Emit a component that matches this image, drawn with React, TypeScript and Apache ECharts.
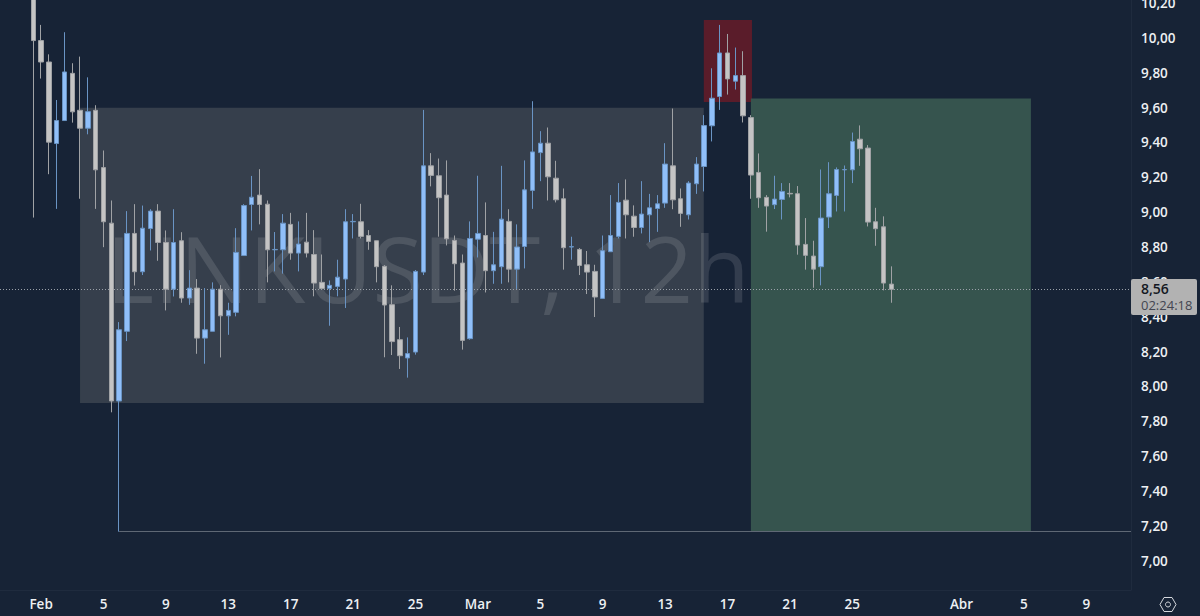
import React, { useEffect, useRef } from "react";
import * as echarts from "echarts";

const opens = [10.45,9.985,9.862,9.394,9.526,9.797,9.585,9.482,9.585,9.256,8.937,7.916,8.316,8.878,8.658,8.906,9.006,8.826,8.558,8.836,8.507,8.564,8.277,8.316,8.558,8.405,8.425,8.751,9.044,9.098,9.046,8.784,8.784,8.930,8.765,8.828,8.757,8.597,8.562,8.574,8.616,8.945,8.945,8.866,8.836,8.689,8.469,8.268,8.163,8.197,8.656,9.266,9.209,9.098,8.838,8.708,8.274,8.845,8.866,8.664,8.687,8.947,8.673,8.803,9.125,9.342,9.396,9.195,9.077,8.800,8.786,8.698,8.660,8.505,8.773,8.861,9.069,8.977,8.912,8.985,9.021,9.052,9.266,9.077,8.985,9.163,9.262,9.496,9.664,9.914,9.752,9.784,9.543,9.228,9.085,9.043,9.073,9.108,9.106,8.815,8.748,8.687,8.972,9.096,9.243,9.243,9.419,9.368,8.945,8.916,8.587];
const closes = [9.985,9.862,9.402,9.526,9.805,9.576,9.482,9.577,9.243,8.945,7.916,8.325,8.878,8.658,8.908,9.006,8.826,8.558,8.826,8.507,8.564,8.277,8.325,8.558,8.405,8.436,8.769,9.038,9.086,9.044,8.784,8.786,8.937,8.765,8.817,8.765,8.593,8.562,8.580,8.627,8.945,8.947,8.861,8.832,8.687,8.467,8.257,8.176,8.188,8.660,9.266,9.211,9.083,8.847,8.704,8.264,8.849,8.878,8.664,8.698,8.960,8.673,8.800,9.128,9.346,9.396,9.203,9.071,8.796,8.802,8.694,8.656,8.513,8.779,8.866,9.056,8.985,8.912,8.989,9.025,9.048,9.276,9.071,8.993,9.167,9.276,9.497,9.654,9.914,9.765,9.784,9.553,9.213,9.083,9.035,9.075,9.119,9.105,8.811,8.752,8.673,8.966,9.106,9.245,9.245,9.406,9.364,8.943,8.905,8.593,8.557];
const lows = [8.969,9.767,9.218,9.019,9.526,9.514,9.077,9.447,9.019,8.799,7.851,7.166,8.260,8.579,8.639,8.780,8.721,8.436,8.516,8.480,8.468,8.187,8.130,8.316,8.166,8.296,8.402,8.751,8.895,8.930,8.597,8.660,8.647,8.727,8.660,8.740,8.517,8.559,8.348,8.517,8.450,8.849,8.849,8.784,8.597,8.167,8.180,8.100,8.050,8.182,8.639,9.148,8.859,8.809,8.549,8.211,8.268,8.740,8.539,8.589,8.589,8.597,8.559,8.677,9.019,9.178,9.067,9.056,8.670,8.727,8.639,8.530,8.398,8.505,8.773,8.849,8.849,8.859,8.878,8.828,8.887,9.025,9.017,8.916,8.958,9.105,9.119,9.406,9.587,9.675,9.704,9.515,9.077,9.025,8.888,9.018,8.958,9.085,8.756,8.670,8.566,8.580,8.909,9.004,9.004,9.167,9.266,8.918,8.807,8.551,8.480];
const highs = [10.55,10.075,9.906,9.644,10.033,9.855,9.893,9.774,9.614,9.354,9.067,8.369,9.006,9.046,9.038,9.017,9.046,8.895,9.017,8.885,8.667,8.616,8.564,8.597,8.581,8.480,8.908,9.046,9.208,9.247,9.067,8.886,8.989,8.996,8.947,8.996,8.897,8.757,8.608,8.727,9.017,8.989,9.048,8.897,8.836,8.696,8.580,8.341,8.281,8.668,9.587,9.339,9.308,9.297,8.866,8.757,8.947,9.209,9.056,8.887,9.266,9.017,8.930,9.297,9.637,9.465,9.486,9.295,9.136,8.859,8.794,8.777,8.698,8.866,9.098,9.167,9.188,9.039,9.178,9.105,9.098,9.396,9.595,9.136,9.178,9.316,9.557,9.826,10.075,10.023,9.945,9.924,9.557,9.337,9.098,9.209,9.167,9.167,9.150,8.966,8.836,9.245,9.287,9.257,9.268,9.457,9.498,9.385,9.025,8.976,8.689];

const priceTicks = [7.0,7.2,7.4,7.6,7.8,8.0,8.2,8.4,8.6,8.8,9.0,9.2,9.4,9.6,9.8,10.0,10.2];
const timeTickIndex = [1,9,17,25,33,41,49,57,65,73,81,89,97,105,119,127,135];
const timeTickLabels = ["Feb","5","9","13","17","21","25","Mar","5","9","13","17","21","25","Abr","5","9"];

const grayBox = [5.99, 85.96, 9.6, 7.905];
const redBox = [85.96, 92.14, 10.103, 9.633];
const greenBox = [92.0, 127.9, 9.653, 7.166];

const lastPrice = 8.56;
const stopPrice = 7.166;
const stopStart = 11;
const xMin = -4.27;
const xMax = 140.73;
const yMin = 6.831;
const yMax = 10.218;

const BG = "#172336";
const FONT = "'Open Sans', sans-serif";

const hexagon = [[1160,604.5],[1164,597.5],[1172,597.5],[1176,604.5],[1172,611.5],[1164,611.5]];

export default function App() {
  const ref = useRef<HTMLDivElement>(null);
  useEffect(() => {
    document.body.style.margin = "0";
    document.body.style.background = BG;
    const chart = echarts.init(ref.current!, null, { renderer: "svg" });
    const data = opens.map((o, i) => [i, o, closes[i], lows[i], highs[i]]);
    const box = (b: number[], color: string) => [
      { coord: [b[0], b[2]], itemStyle: { color, opacity: 1 } },
      { coord: [b[1], b[3]] },
    ];
    chart.setOption({
      animation: false,
      backgroundColor: BG,
      grid: { left: 0, top: 0, right: 69, bottom: 26, outerBoundsMode: "none" },
      xAxis: {
        type: "value",
        min: xMin,
        max: xMax,
        splitLine: { show: false },
        axisLine: { show: true, onZero: false, lineStyle: { color: "#1f2b3e" } },
        axisTick: { show: false },
        axisLabel: {
          customValues: timeTickIndex,
          formatter: (v: number) => timeTickLabels[timeTickIndex.indexOf(v)] ?? "",
          color: "#eef0f3",
          fontFamily: FONT,
          fontSize: 13.5,
          fontWeight: 600,
          margin: 7,
        },
      },
      yAxis: {
        type: "value",
        position: "right",
        min: yMin,
        max: yMax,
        splitLine: { show: false },
        axisLine: { show: true, onZero: false, lineStyle: { color: "#1f2b3e" } },
        axisTick: { show: false },
        axisLabel: {
          customValues: priceTicks,
          formatter: (v: number) => v.toFixed(2).replace(".", ","),
          color: "#eef0f3",
          fontFamily: FONT,
          fontSize: 13.5,
          fontWeight: 600,
          margin: 10,
        },
      },
      series: [
        {
          type: "candlestick",
          z: 2,
          barWidth: 5,
          clip: true,
          data,
          itemStyle: {
            color: "#90bff9",
            color0: "#c4c4c4",
            borderColor: "#6a94c4",
            borderColor0: "#a0a2a5",
            borderWidth: 1,
          },
          markArea: {
            z: 0,
            silent: true,
            data: [box(grayBox, "#363f4c"), box(redBox, "#5a1c2a"), box(greenBox, "#36544e")],
          },
          markLine: {
            z: 1,
            silent: true,
            symbol: "none",
            label: { show: false },
            data: [
              [
                { coord: [xMin, lastPrice], lineStyle: { type: [1, 2], color: "#9aa0a8", width: 1 } },
                { coord: [xMax, lastPrice] },
              ],
              [
                { coord: [stopStart, stopPrice], lineStyle: { type: "solid", color: "#5f6875", width: 1 } },
                { coord: [xMax, stopPrice] },
              ],
            ],
          },
        },
      ],
      graphic: [
        {
          type: "text", x: 106, y: 313, z: 1, silent: true,
          style: { text: "LINKUSDT, 12h", font: `92px ${FONT}`, fill: "rgba(255,255,255,0.12)", verticalAlign: "bottom" },
        },
        { type: "rect", z: 100, shape: { x: 1131, y: 279, width: 66, height: 36, r: 2 }, style: { fill: "#b2b2b2" } },
        { type: "text", z: 101, x: 1141, y: 281, style: { text: "8,56", font: `600 14px ${FONT}`, fill: "#131722" } },
        { type: "text", z: 101, x: 1141, y: 298, style: { text: "02:24:18", font: `13px ${FONT}`, fill: "#434651" } },
        { type: "polygon", z: 101, shape: { points: hexagon }, style: { fill: "none", stroke: "#d5d8dd", lineWidth: 1 } },
        { type: "circle", z: 101, shape: { cx: 1168, cy: 604.5, r: 2.5 }, style: { fill: "none", stroke: "#d5d8dd", lineWidth: 1 } },
      ],
    });
    return () => chart.dispose();
  }, []);
  return <div ref={ref} style={{ position: "absolute", left: 0, top: 0, width: 1200, height: 616 }} />;
}
